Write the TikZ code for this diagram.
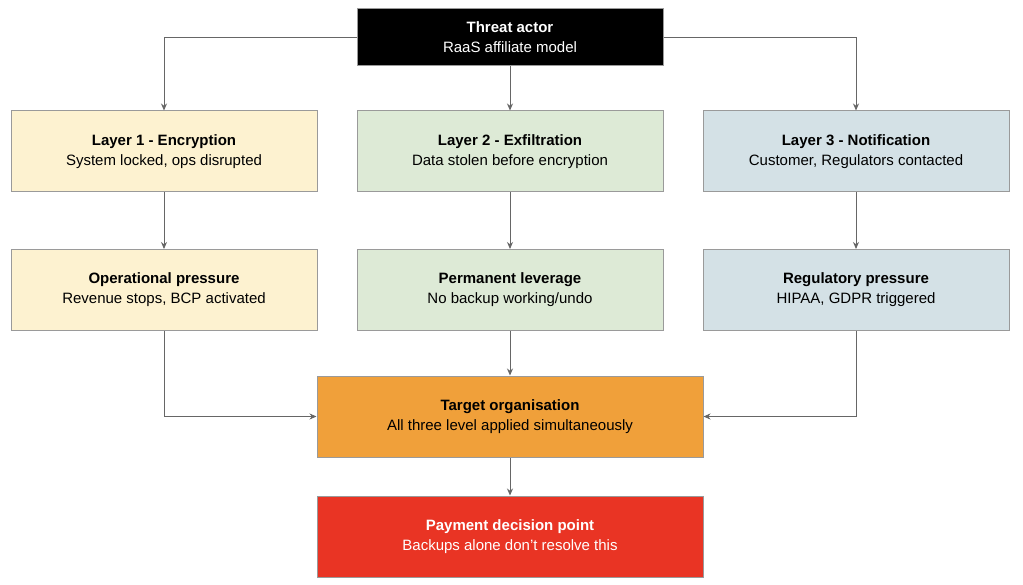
\documentclass[tikz,border=0pt]{standalone}
\usepackage{fontspec}
\setmainfont{Liberation Sans}
\usetikzlibrary{arrows.meta}
\definecolor{cy}{HTML}{FDF2D0}
\definecolor{cg}{HTML}{DDEAD6}
\definecolor{cb}{HTML}{D4E1E6}
\definecolor{co}{HTML}{F0A03A}
\definecolor{cr}{HTML}{E93424}
\definecolor{bd}{HTML}{9A9A9A}
\begin{document}
\begin{tikzpicture}[x=1pt,y=-1pt,
 box/.style={draw=bd,line width=1pt,minimum width=306pt,minimum height=81pt,align=center,font=\fontsize{15}{20}\selectfont,inner sep=0pt},
 wide/.style={box,minimum width=386pt},
 arr/.style={draw=black!60,line width=0.9pt,-{Stealth[length=7pt,width=6pt]}}]
\useasboundingbox[fill=white] (0,0) rectangle (1023,585);
\node[box,fill=black,text=white,minimum height=57pt] (ta) at (510,37.5) {\textbf{Threat actor}\\RaaS affiliate model};
\node[box,fill=cy] (l1) at (164,151.5) {\textbf{Layer 1 - Encryption}\\System locked, ops disrupted};
\node[box,fill=cg] (l2) at (510,151.5) {\textbf{Layer 2 - Exfiltration}\\Data stolen before encryption};
\node[box,fill=cb] (l3) at (856,151.5) {\textbf{Layer 3 - Notification}\\Customer, Regulators contacted};
\node[box,fill=cy] (p1) at (164,290) {\textbf{Operational pressure}\\Revenue stops, BCP activated};
\node[box,fill=cg] (p2) at (510,290) {\textbf{Permanent leverage}\\No backup working/undo};
\node[box,fill=cb] (p3) at (856,290) {\textbf{Regulatory pressure}\\HIPAA, GDPR triggered};
\node[wide,fill=co] (to) at (510,416.5) {\textbf{Target organisation}\\All three level applied simultaneously};
\node[wide,fill=cr,text=white] (pd) at (510,536.5) {\textbf{Payment decision point}\\Backups alone don't resolve this};
\draw[arr] (ta.west) -| (l1.north);
\draw[arr] (ta.east) -| (l3.north);
\draw[arr] (ta) -- (l2);
\draw[arr] (l1) -- (p1);
\draw[arr] (l2) -- (p2);
\draw[arr] (l3) -- (p3);
\draw[arr] (p1.south) |- (to.west);
\draw[arr] (p3.south) |- (to.east);
\draw[arr] (p2) -- (to);
\draw[arr] (to) -- (pd);
\end{tikzpicture}
\end{document}
